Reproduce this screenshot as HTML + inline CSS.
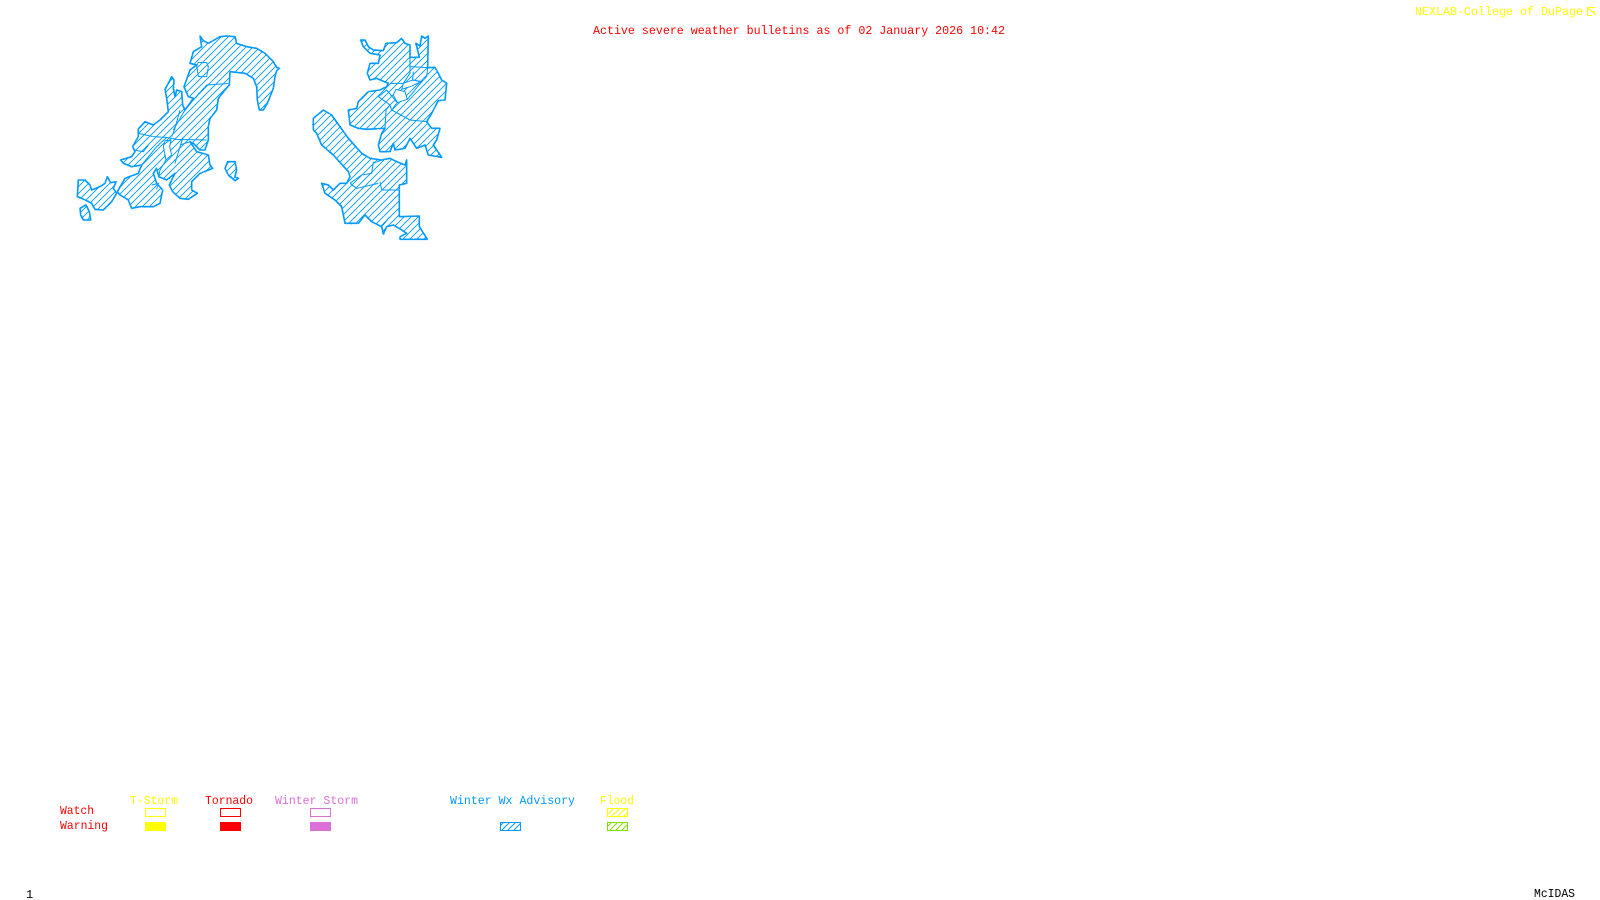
<!DOCTYPE html>
<html>
<head>
<meta charset="utf-8">
<title>Active severe weather bulletins</title>
<style>
html,body{margin:0;padding:0;background:#fff;width:1600px;height:900px;overflow:hidden}
svg{display:block}
text{font-family:"Liberation Mono",monospace;font-size:12px}
polygon{vector-effect:non-scaling-stroke}
.f{fill:url(#h);stroke:none}
.o{fill:none;stroke:#0099ff;stroke-width:1.6;stroke-linejoin:round}
.i{fill:none;stroke:#0099ff;stroke-width:1;vector-effect:non-scaling-stroke}
.w{fill:#fff;stroke:#0099ff;stroke-width:1}
</style>
</head>
<body>
<svg width="1600" height="900" viewBox="0 0 1600 900" xmlns="http://www.w3.org/2000/svg">
<defs>
<pattern id="h" patternUnits="userSpaceOnUse" width="21" height="21">
<path d="M-5 5L5-5M0 21L21 0M16 26L26 16" stroke="#0099ff" stroke-width="2.7"/>
</pattern>
<pattern id="hb" patternUnits="userSpaceOnUse" width="6" height="6">
<path d="M-1.5 1.5L1.5-1.5M0 6L6 0M4.5 7.5L7.5 4.5" stroke="#0099ff" stroke-width="1"/>
</pattern>
<pattern id="hy" patternUnits="userSpaceOnUse" width="6" height="6">
<path d="M-1.5 1.5L1.5-1.5M0 6L6 0M4.5 7.5L7.5 4.5" stroke="#ffff00" stroke-width="1"/>
</pattern>
<pattern id="hg" patternUnits="userSpaceOnUse" width="6" height="6">
<path d="M-1.5 1.5L1.5-1.5M0 6L6 0M4.5 7.5L7.5 4.5" stroke="#80e000" stroke-width="1"/>
</pattern>
<filter id="r" x="-5%" y="-5%" width="110%" height="110%">
<feTurbulence type="fractalNoise" baseFrequency="0.35" numOctaves="2" seed="4"/>
<feDisplacementMap in="SourceGraphic" scale="3" xChannelSelector="R" yChannelSelector="G"/>
</filter>
<polygon id="a" points="420,18 430,32 445,40 480,20 500,18 525,20 530,40 560,50 590,55 615,70 640,95 650,112 658,115 650,122 645,140 640,175 630,200 622,220 610,240 598,240 592,210 590,170 580,145 555,130 510,125 508,165 495,180 475,205 470,240 450,265 445,290 445,330 435,360 420,360 400,340 390,335 410,365 445,375 450,405 458,415 420,430 395,455 395,480 412,490 385,508 360,505 338,485 328,465 345,430 320,450 296,440 290,415 280,430 290,460 308,480 300,520 280,530 240,530 215,535 205,510 180,495 172,485 195,445 235,430 245,405 215,410 190,400 182,390 215,380 225,365 218,350 235,320 235,297 255,275 280,285 300,270 325,245 320,205 315,178 325,160 335,140 342,150 340,175 345,200 350,180 365,185 368,225 375,240 400,205 385,200 372,170 390,120 410,105 390,100 400,65 425,50"/>
<polygon id="b" points="55,450 75,450 90,465 95,480 120,470 135,460 142,440 152,458 168,455 160,475 170,490 155,515 130,540 105,538 95,520 65,505 52,500"/>
<polygon id="c" points="60,535 78,525 88,545 92,570 70,570 62,555"/>
<polygon id="d" points="495,415 503,395 525,395 530,420 525,440 535,445 525,452 505,435"/>
<polygon id="e" points="212,30 225,30 235,50 250,60 280,62 288,40 320,38 335,25 345,40 360,45 360,82 388,82 378,40 390,48 395,18 405,25 415,18 413,113 435,112 445,130 455,150 470,160 465,210 445,212 425,250 410,275 425,295 450,295 440,330 430,345 455,382 415,375 405,345 380,355 360,325 345,355 315,360 310,340 300,365 270,365 265,345 275,310 285,295 230,298 205,295 180,285 175,240 200,235 205,215 235,185 270,180 290,170 295,160 260,145 240,150 232,130 240,100 265,100 270,75 240,70 220,50"/>
<polygon id="g" points="70,265 100,240 125,255 150,290 175,325 215,370 240,385 275,390 300,385 320,395 345,405 350,390 350,460 328,465 328,560 388,558 388,590 412,628 330,628 330,620 350,610 335,600 310,585 290,590 280,612 275,590 245,575 225,555 205,580 165,580 155,530 135,510 105,490 95,460 115,465 130,480 150,460 170,460 180,440 175,425 130,375 95,345 80,310 70,300"/>
</defs>

<g transform="translate(60,30) scale(.33333)">
<use href="#a" class="f"/><use href="#b" class="f"/><use href="#c" class="f"/><use href="#d" class="f"/>
<g filter="url(#r)">
<polygon class="w" points="315,332 333,332 329,350 335,375 318,390 310,350"/>
<use href="#a" class="o"/><use href="#b" class="o"/><use href="#c" class="o"/><use href="#d" class="o"/>
<path class="i" d="M410 105L415 97L440 98L445 110L440 140L415 140L410 105M440 165L510 160M235 310L280 320L320 322L350 328L440 330M335 325L310 345M370 320L360 350L345 400M390 335L360 345M360 240L345 295L335 320M440 165L400 210L375 240L340 300M245 405L290 350L320 322M318 390L300 420L296 440M275 465L295 460L290 478M220 360L250 365L265 345"/>
</g>
</g>

<g transform="translate(290,30) scale(.33333)">
<use href="#e" class="f"/><use href="#g" class="f"/>
<g filter="url(#r)">
<polygon class="w" points="318,178 345,185 352,208 322,218 310,195"/>
<polygon class="w" points="340,160 368,150 395,155 360,170 335,178"/>
<use href="#e" class="o"/><use href="#g" class="o"/>
<path class="i" d="M360 82L360 130L340 160L300 160M360 110L413 113M370 125L368 150L395 155L410 140L413 113M395 155L352 208M322 218L290 180L265 200L300 225L288 240L285 295M320 220L305 240L360 270L410 275M300 225L305 240M250 395L245 430L215 435L180 460M275 390L250 400M270 455L275 480L328 480M180 460L200 475L265 460M300 560L275 590"/>
</g>
</g>

<text x="593" y="34" fill="#ff0000" textLength="412" lengthAdjust="spacingAndGlyphs">Active severe weather bulletins as of 02 January 2026 10:42</text>
<text x="1415" y="15" fill="#ffff00" textLength="168" lengthAdjust="spacingAndGlyphs">NEXLAB-College of DuPage</text>
<g fill="none" stroke="#ffff00" stroke-width="1">
<path d="M1587.5 15.5V7.5H1595.5M1588 8L1596 15M1587.500 15.500H1592M1591 11.500H1595"/>
</g>

<text x="130" y="804" fill="#ffff00" textLength="48" lengthAdjust="spacingAndGlyphs">T-Storm</text>
<text x="205" y="804" fill="#ff0000" textLength="48" lengthAdjust="spacingAndGlyphs">Tornado</text>
<text x="275" y="804" fill="#da70d6" textLength="83" lengthAdjust="spacingAndGlyphs">Winter Storm</text>
<text x="450" y="804" fill="#0099ff" textLength="125" lengthAdjust="spacingAndGlyphs">Winter Wx Advisory</text>
<text x="600" y="804" fill="#ffff00" textLength="34" lengthAdjust="spacingAndGlyphs">Flood</text>
<text x="60" y="814" fill="#ff0000" textLength="34" lengthAdjust="spacingAndGlyphs">Watch</text>
<text x="60" y="829" fill="#ff0000" textLength="48" lengthAdjust="spacingAndGlyphs">Warning</text>

<rect x="145.500" y="808.500" width="20" height="8" fill="none" stroke="#ffff00"/>
<rect x="220.500" y="808.500" width="20" height="8" fill="none" stroke="#ff0000"/>
<rect x="310.500" y="808.500" width="20" height="8" fill="none" stroke="#da70d6"/>
<rect x="607.500" y="808.500" width="20" height="8" fill="url(#hy)" stroke="#ffff00"/>
<rect x="145" y="822" width="21" height="9" fill="#ffff00"/>
<rect x="220" y="822" width="21" height="9" fill="#ff0000"/>
<rect x="310" y="822" width="21" height="9" fill="#da70d6"/>
<rect x="500.500" y="822.500" width="20" height="8" fill="url(#hb)" stroke="#0099ff"/>
<rect x="607.500" y="822.500" width="20" height="8" fill="url(#hg)" stroke="#80e000"/>

<text x="26" y="898" fill="#000000">1</text>
<text x="1534" y="897" fill="#000000" textLength="41" lengthAdjust="spacingAndGlyphs">McIDAS</text>
</svg>
</body>
</html>
